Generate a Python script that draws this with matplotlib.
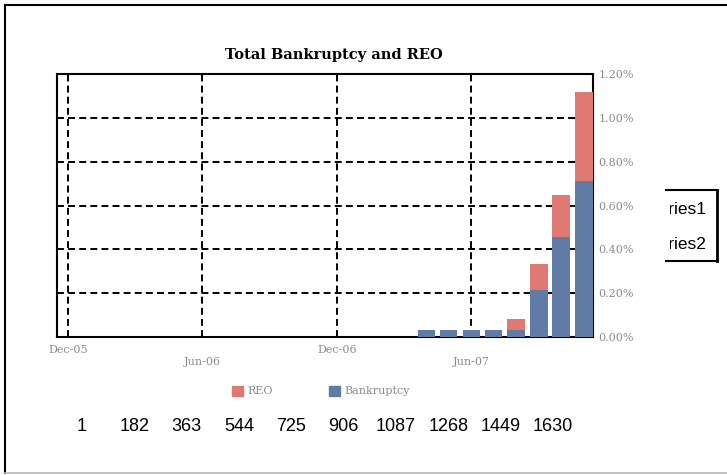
import datetime as dt
import matplotlib
matplotlib.use('Agg')
import matplotlib.pyplot as plt
from matplotlib.lines import Line2D
from matplotlib.patches import Patch, Rectangle
from matplotlib.ticker import FuncFormatter

plt.rcParams['lines.scale_dashes'] = False

# monthly values, percent of loans
months = [dt.date(2007, m, 1) for m in range(4, 12)]
bankruptcy = [0.03, 0.03, 0.03, 0.03, 0.03, 0.215, 0.455, 0.71]
reo = [0.0, 0.0, 0.0, 0.0, 0.05, 0.12, 0.195, 0.41]

date_ticks = [dt.date(2005, 12, 1), dt.date(2006, 6, 1),
              dt.date(2006, 12, 1), dt.date(2007, 6, 1)]
date_labels = ['Dec-05', '\nJun-06', 'Dec-06', '\nJun-07']

stray_ticks = [1, 182, 363, 544, 725, 906, 1087, 1268, 1449, 1630]
series_names = ['Series1', 'Series2']

red = '#E07873'
blue = '#607CA6'
gray = '#8C8C8C'
W, H = 727, 475

fig = plt.figure(figsize=(7.27, 4.75), dpi=100)

ax = fig.add_axes([57 / W, 1 - 337 / H, 536 / W, 263 / H])
ax.bar(months, bankruptcy, width=24, color=blue, label='Bankruptcy', zorder=3)
ax.bar(months, reo, width=24, bottom=bankruptcy, color=red, label='REO', zorder=3)

ax.set_xlim(dt.date(2005, 11, 16), dt.date(2007, 11, 13))
ax.set_ylim(0, 1.2)
ax.set_xticks(date_ticks)
ax.set_xticklabels(date_labels, fontsize=8, family='DejaVu Serif', color=gray)
ax.set_yticks([0, 0.2, 0.4, 0.6, 0.8, 1.0, 1.2])
ax.yaxis.set_major_formatter(FuncFormatter(lambda v, p: '%.2f%%' % v))
ax.yaxis.tick_right()
ax.tick_params(axis='y', labelsize=8, labelcolor=gray, length=0, pad=4)
ax.tick_params(axis='x', direction='in', length=4, width=1.2, pad=6)
for lab in ax.get_yticklabels():
    lab.set_family('DejaVu Serif')
ax.grid(True, color='black', linewidth=1.4, linestyle=(0, (5, 3)), zorder=1)
for s in ax.spines.values():
    s.set_linewidth(1.5)

handles = [Patch(color=red), Patch(color=blue)]
fig.legend(handles, ['REO', 'Bankruptcy'], ncol=2, loc='center',
           bbox_to_anchor=(321 / W, 1 - 391 / H), frameon=False,
           prop={'family': 'DejaVu Serif', 'size': 8}, labelcolor=gray,
           handlelength=1.0, handleheight=1.0, handletextpad=0.4,
           columnspacing=5.0)

fig.text(334 / W, 1 - 55 / H, 'Total Bankruptcy and REO', ha='center',
         va='center', fontsize=10.5, fontweight='bold', family='DejaVu Serif')

# stray axis of day numbers under the chart
ax2 = fig.add_axes([60 / W, 1 - 418 / H, 540 / W, 0.001])
ax2.set_xlim(1 - 22 / 0.2891, 1 + 518 / 0.2891)
ax2.set_xticks(stray_ticks)
ax2.set_xticklabels([str(t) for t in stray_ticks], fontsize=13,
                    family='Liberation Sans')
ax2.set_yticks([])
ax2.tick_params(axis='x', length=0, pad=0)
for s in ax2.spines.values():
    s.set_visible(False)

# cut-off legend box at the right
ax3 = fig.add_axes([666 / W, 1 - 261 / H, 51 / W, 71 / H])
ax3.set_xticks([])
ax3.set_yticks([])
ax3.spines['left'].set_visible(False)
for s in ['top', 'right', 'bottom']:
    ax3.spines[s].set_linewidth(1.5)
ax3.spines['right'].set_linewidth(2)
for name, yy in zip(series_names, [0.72, 0.23]):
    ax3.text(0.79, yy, name, ha='right', va='center', fontsize=12.5,
             family='Liberation Sans', transform=ax3.transAxes)
# hide the part of the text left of the box
fig.add_artist(Rectangle((640 / W, 1 - 258 / H), 30 / W, 66 / H,
                         facecolor='white', edgecolor='none',
                         transform=fig.transFigure, zorder=5))

# outer frame
fig.add_artist(Line2D([4.5 / W, 4.5 / W], [1 - 4.5 / H, 1 - 473 / H],
                      color='black', lw=1.5, transform=fig.transFigure))
fig.add_artist(Line2D([4.5 / W, 1], [1 - 4.5 / H, 1 - 4.5 / H],
                      color='black', lw=1.5, transform=fig.transFigure))
fig.add_artist(Line2D([4.5 / W, 1], [1 - 473 / H, 1 - 473 / H],
                      color='#BBBBBB', lw=1.2, transform=fig.transFigure))

fig.savefig('out.png', dpi=100)
